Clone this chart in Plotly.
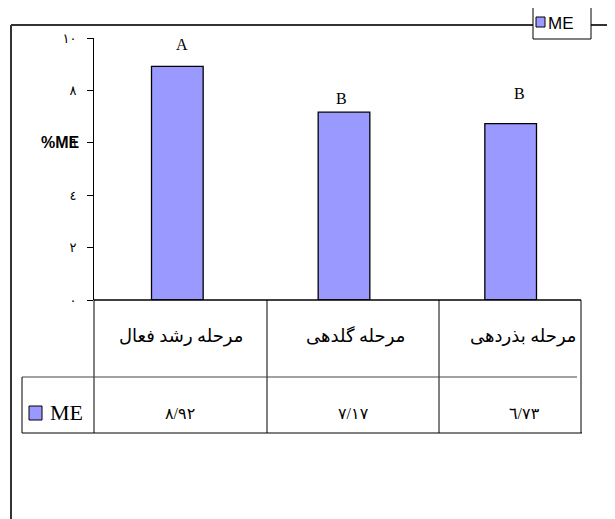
import plotly.graph_objects as go

# ---- data ----
categories = ["مرحله رشد فعال", "مرحله گلدهی", "مرحله بذردهی"]
values = [8.92, 7.17, 6.73]
value_labels = ["٨/٩٢", "٧/١٧", "٦/٧٣"]
letters = ["A", "B", "B"]
letter_y = [9.77, 7.71, 7.9]
tick_vals = [0, 2, 4, 6, 8, 10]
tick_text = ["٠", "٢", "٤", "٦", "٨", "١٠"]
series_name = "ME"
y_title = "%ME"

# ---- layout geometry (screen pixels; page has an 8px body margin) ----
OFF = 8
FW, FH = 615 - OFF, 519 - OFF
L, T, W, H = 94, 38, 500, 262          # plot area in screen pixels
BAR = "#9999FF"
SERIF = "Liberation Serif, Times New Roman, DejaVu Sans, serif"
SANS = "Liberation Sans, Arial, DejaVu Sans, sans-serif"
letter_xshift = [5, -3, 9]


def px(x):
    return (x - L) / W


def py(y):
    return (T + H - y) / H


fig = go.Figure()
fig.add_trace(go.Bar(
    x=categories, y=values, width=0.31,
    marker=dict(color=BAR, line=dict(color="black", width=1.3)),
    showlegend=False, hoverinfo="skip", name=series_name,
))

shapes = []


def line(x0, y0, x1, y1, color="black", width=1):
    shapes.append(dict(type="line", xref="paper", yref="paper",
                       x0=px(x0), y0=py(y0), x1=px(x1), y1=py(y1),
                       line=dict(color=color, width=width), layer="above"))


# outer frame
line(11, 25, 11, 530, "#333333", 2)
line(11, 25, 620, 25, "#333333", 2)
# baseline
line(94, 300, 581, 300, "black", 1.5)
# table grid
for cx in [94, 267, 439, 581]:
    line(cx, 300, cx, 433)
line(22, 377, 577, 377, "#444444", 1)
line(22, 433, 582, 433)
line(22, 377, 22, 433)
# legend box
shapes.append(dict(type="rect", xref="paper", yref="paper",
                   x0=px(533), x1=px(591), y0=py(7), y1=py(39),
                   fillcolor="white", line=dict(color="black", width=1), layer="above"))
shapes.append(dict(type="rect", xref="paper", yref="paper",
                   x0=px(536), x1=px(545), y0=py(17), y1=py(27),
                   fillcolor=BAR, line=dict(color="black", width=1), layer="above"))
# table legend key
shapes.append(dict(type="rect", xref="paper", yref="paper",
                   x0=px(29), x1=px(42), y0=py(406), y1=py(420),
                   fillcolor=BAR, line=dict(color="black", width=1), layer="above"))

annotations = []
for c, lt, ly, dx in zip(categories, letters, letter_y, letter_xshift):
    annotations.append(dict(x=c, y=ly, xref="x", yref="y", text=lt, showarrow=False,
                            xanchor="center", yanchor="middle", xshift=dx,
                            font=dict(family=SERIF, size=16, color="black")))
col_centers = [181, 355, 523]
for c, cx in zip(categories, col_centers):
    annotations.append(dict(x=px(cx), y=py(336), xref="paper", yref="paper", text=c,
                            showarrow=False, xanchor="center", yanchor="middle",
                            font=dict(family=SERIF, size=18, color="black")))
val_centers = [180, 353, 524]
for v, cx in zip(value_labels, val_centers):
    annotations.append(dict(x=px(cx), y=py(413), xref="paper", yref="paper", text=v,
                            showarrow=False, xanchor="center", yanchor="middle",
                            font=dict(family=SERIF, size=16, color="black")))
annotations.append(dict(x=px(48), y=py(412), xref="paper", yref="paper", text=series_name,
                        xanchor="left", yanchor="middle", showarrow=False,
                        font=dict(family=SERIF, size=22, color="black")))
annotations.append(dict(x=px(546), y=py(23), xref="paper", yref="paper", text=series_name,
                        xanchor="left", yanchor="middle", showarrow=False,
                        font=dict(family=SANS, size=17, color="black")))
annotations.append(dict(x=px(60), y=py(142), xref="paper", yref="paper",
                        text="<b>" + y_title + "</b>", showarrow=False,
                        xanchor="center", yanchor="middle",
                        font=dict(family=SANS, size=16, color="black")))

fig.update_layout(
    width=FW, height=FH, autosize=False,
    margin=dict(l=L - OFF, r=FW - (L - OFF) - W, t=T - OFF, b=FH - (T - OFF) - H, pad=0),
    paper_bgcolor="white", plot_bgcolor="white",
    showlegend=False,
    xaxis=dict(range=[-0.5, 2.5], showticklabels=False, showline=False,
               showgrid=False, zeroline=False, ticks=""),
    yaxis=dict(range=[0, 10], tickvals=tick_vals, ticktext=tick_text,
               showline=True, linecolor="black", linewidth=1,
               ticks="outside", ticklen=6, tickcolor="black", tickwidth=1,
               ticklabelstandoff=8,
               showgrid=False, zeroline=False,
               tickfont=dict(family=SERIF, size=13, color="black")),
    shapes=shapes, annotations=annotations,
)

fig.write_html("out.html")
